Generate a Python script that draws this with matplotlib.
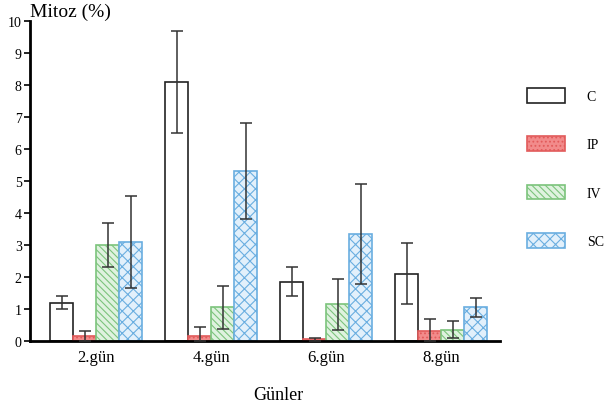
import numpy as np
import matplotlib
matplotlib.use("Agg")
import matplotlib.pyplot as plt

plt.rcParams['font.family'] = ['Liberation Serif', 'DejaVu Serif']
plt.rcParams['hatch.linewidth'] = 0.8

# Data
days = ["2.gün", "4.gün", "6.gün", "8.gün"]
groups = ["C", "IP", "IV", "SC"]
c_vals = [1.2, 8.1, 1.85, 2.1]
c_err = [0.2, 1.6, 0.45, 0.95]
ip_vals = [0.15, 0.15, 0.05, 0.3]
ip_err = [0.15, 0.28, 0.05, 0.38]
iv_vals = [3.0, 1.05, 1.15, 0.35]
iv_err = [0.7, 0.67, 0.8, 0.27]
sc_vals = [3.1, 5.3, 3.35, 1.05]
sc_err = [1.43, 1.5, 1.57, 0.3]

values = [c_vals, ip_vals, iv_vals, sc_vals]
errors = [c_err, ip_err, iv_err, sc_err]
faces = ["white", "#f28b8b", "#dff2df", "#e2f0fb"]
edges = ["#222222", "#e25b5b", "#7cc47c", "#6aaee0"]
hatches = [None, "....", "\\\\\\\\\\", "xxx"]

fig = plt.figure(figsize=(6.07, 4.10), dpi=100)
ax = fig.add_axes([30 / 607, 68 / 410, 470 / 607, 320 / 410])

x = np.arange(len(days))
w = 0.2
for i in range(4):
    v = np.array(values[i])
    e = np.array(errors[i])
    lower = np.minimum(e, v)
    ax.bar(x + (i - 1.5) * w, v, w, color=faces[i], edgecolor=edges[i],
           hatch=hatches[i], linewidth=1.2, label=groups[i], zorder=2)
    ax.errorbar(x + (i - 1.5) * w, v, yerr=[lower, e], fmt="none",
                ecolor="#333333", elinewidth=1.1, capsize=4.3, capthick=1.1, zorder=3)

ax.set_xlim(-0.574, 3.513)
ax.set_ylim(0, 10)
ax.set_yticks(range(11))
ax.set_xticks(x)
ax.set_xticklabels(days, fontsize=12)
ax.tick_params(axis="x", length=0, pad=6)
ax.tick_params(axis="y", length=4, width=1.2, labelsize=10, pad=2)
ax.spines["top"].set_visible(False)
ax.spines["right"].set_visible(False)
ax.spines["left"].set_linewidth(2)
ax.spines["bottom"].set_linewidth(2)

fig.text(30 / 607, 1 - 12 / 410, "Mitoz (%)", fontsize=14, va="center", ha="left")
fig.text(278 / 607, 1 - 396 / 410, "Günler", fontsize=13, va="center", ha="center")

ax.legend(loc="upper left", bbox_to_anchor=(527 / 607, 1 - 89 / 410),
          bbox_transform=fig.transFigure, frameon=False, fontsize=10,
          borderpad=0, borderaxespad=0,
          handlelength=2.7, handleheight=1.25, labelspacing=2.4, handletextpad=1.6)

plt.savefig("out.png", dpi=100)
